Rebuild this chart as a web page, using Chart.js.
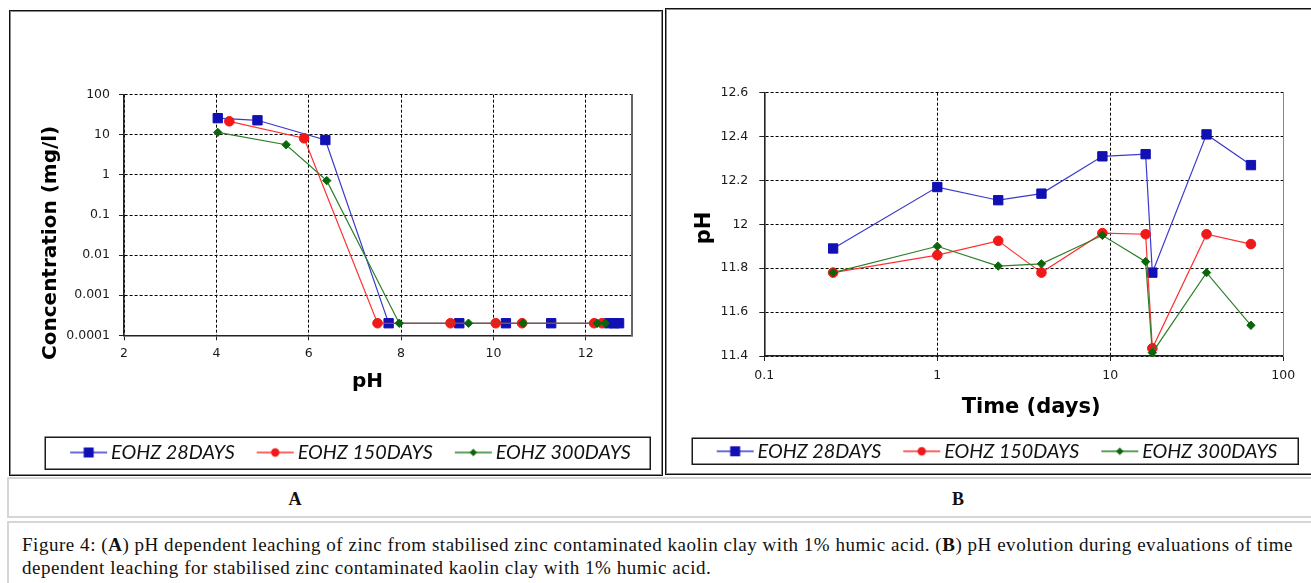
<!DOCTYPE html>
<html><head><meta charset="utf-8">
<script src="https://cdn.jsdelivr.net/npm/chart.js@4.4.0/dist/chart.umd.min.js"></script>
<style>
html,body{margin:0;padding:0;background:#fff;}
body{width:1311px;height:583px;position:relative;overflow:hidden;}
.panel{position:absolute;box-sizing:border-box;border:1px solid #111;box-shadow:inset 0 0 0 1px #8a8a8a;}
canvas{position:absolute;}
.row{position:absolute;box-sizing:border-box;border:2px solid #d6d6d6;}
.lab{position:absolute;font:bold 18px "Liberation Serif";transform:translate(-50%,-50%);color:#111;}
.cap{position:absolute;left:22px;top:533px;font:19px "Liberation Serif";line-height:23px;white-space:nowrap;color:#111;}
</style></head>
<body>
<div class="panel" style="left:9px;top:10px;width:654px;height:466px"></div>
<div class="panel" style="left:665px;top:8px;width:660px;height:467px"></div>
<canvas id="cA" width="650" height="462" style="left:11px;top:12px;width:650px;height:462px"></canvas>
<canvas id="cB" width="644" height="464" style="left:667px;top:10px;width:644px;height:464px"></canvas>
<div class="row" style="left:7px;top:477px;width:1320px;height:41px"></div>
<div class="lab" style="left:295px;top:499px">A</div>
<div class="lab" style="left:958px;top:499px">B</div>
<div class="row" style="left:7px;top:521px;width:1320px;height:80px"></div>
<div class="cap" id="cap"><span id="l1">Figure 4: (<b>A</b>) pH dependent leaching of zinc from stabilised zinc contaminated kaolin clay with 1% humic acid. (<b>B</b>) pH evolution during evaluations of time</span><br><span id="l2">dependent leaching for stabilised zinc contaminated kaolin clay with 1% humic acid.</span></div>
<script>
// ---------- DATA ----------
const seriesNames = ['EOHZ 28DAYS', 'EOHZ 150DAYS', 'EOHZ 300DAYS'];

// Chart A: pH vs concentration (mg/l)
const phA_28   = [4.03, 4.89, 6.36, 7.73, 9.26, 10.27, 11.25, 12.5, 12.62, 12.72];
const concA_28 = [26, 23, 7.4, 0.0002, 0.0002, 0.0002, 0.0002, 0.0002, 0.0002, 0.0002];
const phA_150   = [4.28, 5.9, 7.49, 9.07, 10.05, 10.62, 12.18, 12.35];
const concA_150 = [21.7, 8.2, 0.0002, 0.0002, 0.0002, 0.0002, 0.0002, 0.0002];
const phA_300   = [4.03, 5.51, 6.39, 7.96, 9.46, 10.64, 12.25, 12.42];
const concA_300 = [11.5, 5.66, 0.72, 0.0002, 0.0002, 0.0002, 0.0002, 0.0002];

const xTicksA = [2, 4, 6, 8, 10, 12];
const xTickLabelsA = ['2', '4', '6', '8', '10', '12'];
const yTicksA = [0.0001, 0.001, 0.01, 0.1, 1, 10, 100];
const yTickLabelsA = ['0.0001', '0.001', '0.01', '0.1', '1', '10', '100'];

// Chart B: time (days) vs pH
const timeB = [0.25, 1, 2.25, 4, 9, 16, 17.5, 36, 65];
const phB_28  = [11.89, 12.17, 12.11, 12.14, 12.31, 12.32, 11.78, 12.41, 12.27];
const phB_150 = [11.78, 11.86, 11.925, 11.78, 11.96, 11.955, 11.435, 11.955, 11.91];
const phB_300 = [11.78, 11.90, 11.81, 11.82, 11.95, 11.83, 11.415, 11.78, 11.54];

const xTicksB = [0.1, 1, 10, 100];
const xTickLabelsB = ['0.1', '1', '10', '100'];
const yTicksB = [11.4, 11.6, 11.8, 12, 12.2, 12.4, 12.6];
const yTickLabelsB = ['11.4', '11.6', '11.8', '12', '12.2', '12.4', '12.6'];

// ---------- STYLE ----------
const lineColors = ['#3a3acc', '#ff3030', '#2a7f2a'];
const markerColors = ['#1010b4', '#f01818', '#0b650b'];
const markerShapes = ['rect', 'circle', 'rectRot'];
const markerRadii = [6.6, 4.8, 4.2];

function legendImage(i) {
  const c = document.createElement('canvas');
  c.width = 44; c.height = 14;
  const g = c.getContext('2d');
  g.strokeStyle = lineColors[i]; g.lineWidth = 1.5;
  g.beginPath(); g.moveTo(6, 7); g.lineTo(43, 7); g.stroke();
  g.fillStyle = markerColors[i];
  const cx = 24.5, cy = 7;
  g.beginPath();
  if (markerShapes[i] === 'rect') { g.rect(cx - 5, cy - 5, 10, 10); }
  else if (markerShapes[i] === 'circle') { g.arc(cx, cy, 4.2, 0, Math.PI * 2); }
  else { g.moveTo(cx - 3.8, cy); g.lineTo(cx, cy - 3.8); g.lineTo(cx + 3.8, cy); g.lineTo(cx, cy + 3.8); g.closePath(); }
  g.fill();
  return c;
}
const legendImgs = [0, 1, 2].map(legendImage);

function makeDatasets(xs, ys) {
  return xs.map((xArr, i) => ({
    label: seriesNames[i],
    data: xArr.map((x, k) => ({ x: x, y: ys[i][k] })),
    borderColor: lineColors[i],
    backgroundColor: markerColors[i],
    pointBackgroundColor: markerColors[i],
    pointBorderColor: markerColors[i],
    pointBorderWidth: 1,
    pointStyle: markerShapes[i],
    pointRadius: markerRadii[i],
    borderWidth: 1.2,
    tension: 0,
    clip: false,
    order: 2 - i
  }));
}

const legendFrame = {
  id: 'legendFrame',
  afterDraw(chart, args, opts) {
    const lg = chart.legend;
    if (!lg || !lg.legendHitBoxes || !lg.legendHitBoxes.length) return;
    const hb = lg.legendHitBoxes;
    const first = hb[0], last = hb[hb.length - 1];
    const cy = first.top + first.height / 2;
    const x1 = first.left - opts.padL, x2 = last.left + last.width + opts.padR;
    const ctx = chart.ctx;
    ctx.save();
    ctx.strokeStyle = '#1a1a1a'; ctx.lineWidth = 1.5;
    ctx.strokeRect(Math.round(x1) + 0.25, Math.round(cy - opts.h / 2) + 0.25, Math.round(x2 - x1), Math.round(opts.h));
    ctx.restore();
  }
};

const tickFont = { family: 'DejaVu Sans', size: 12.5 };
const gridCfg = { color: '#000', lineWidth: 1, tickColor: '#222', tickLength: 5, tickWidth: 1, drawTicks: true };
const borderCfg = { display: true, color: '#222', width: 1.6, dash: [3, 2] };

function legendCfg() {
  return {
    position: 'bottom',
    align: 'center',
    labels: {
      usePointStyle: true,
      pointStyleWidth: 30,
      padding: 23,
      color: '#111',
      font: { family: 'Lato', style: 'italic', size: 19.8 },
      sort: (a, b) => a.datasetIndex - b.datasetIndex,
      generateLabels(chart) {
        const items = Chart.defaults.plugins.legend.labels.generateLabels(chart);
        items.forEach(it => { it.pointStyle = legendImgs[it.datasetIndex]; it.lineWidth = 0; });
        return items;
      }
    }
  };
}

// ---------- CHART A ----------
new Chart(document.getElementById('cA'), {
  type: 'line',
  data: { datasets: makeDatasets([phA_28, phA_150, phA_300], [concA_28, concA_150, concA_300]) },
  plugins: [legendFrame],
  options: {
    responsive: false, animation: false,
    layout: { padding: { left: 30, right: 0, top: 82.7, bottom: 1.6 } },
    plugins: {
      legend: legendCfg(),
      tooltip: { enabled: false },
      legendFrame: { padL: 26, padR: 19, h: 31.6 }
    },
    scales: {
      x: {
        type: 'linear', min: 2, max: 13,
        afterBuildTicks: s => { s.ticks = xTicksA.map(v => ({ value: v })); },
        afterFit: s => { s.height = 84.3; },
        ticks: { font: tickFont, color: '#1a1a1a', padding: 5.7, autoSkip: false, maxRotation: 0, callback: (v, i) => xTickLabelsA[i] },
        grid: gridCfg, border: borderCfg,
        title: { display: true, text: 'pH   ', color: '#000', font: { family: 'DejaVu Sans', weight: 'bold', size: 20 }, padding: { top: 0, bottom: 25.9 } }
      },
      y: {
        type: 'logarithmic', min: 0.0001, max: 100, position: 'left',
        afterBuildTicks: s => { s.ticks = yTicksA.map(v => ({ value: v })); },
        afterFit: s => { s.width = 83; },
        ticks: { font: tickFont, color: '#1a1a1a', padding: 9, autoSkip: false, callback: (v, i) => yTickLabelsA[i] },
        grid: gridCfg, border: borderCfg,
        title: { display: true, text: 'Concentration (mg/l)        ', color: '#000', font: { family: 'DejaVu Sans', weight: 'bold', size: 20 }, padding: { top: -2.5, bottom: 0 } }
      },
      yR: {
        type: 'linear', position: 'right', display: true,
        afterFit: s => { s.width = 29; },
        ticks: { display: false }, grid: { display: false, drawTicks: false },
        border: { display: true, color: '#666', width: 2 }
      }
    }
  }
});

// ---------- CHART B ----------
new Chart(document.getElementById('cB'), {
  type: 'line',
  data: { datasets: makeDatasets([timeB, timeB, timeB], [phB_28, phB_150, phB_300]) },
  plugins: [legendFrame],
  options: {
    responsive: false, animation: false,
    layout: { padding: { left: 17, right: 0, top: 82.7, bottom: 2.8 } },
    plugins: {
      legend: legendCfg(),
      tooltip: { enabled: false },
      legendFrame: { padL: 26, padR: 20, h: 26 }
    },
    scales: {
      x: {
        type: 'logarithmic', min: 0.1, max: 100,
        afterBuildTicks: s => { s.ticks = xTicksB.map(v => ({ value: v })); },
        afterFit: s => { s.height = 62.4; },
        ticks: { font: tickFont, color: '#1a1a1a', padding: 7.3, autoSkip: false, maxRotation: 0, callback: (v, i) => xTickLabelsB[i] },
        grid: gridCfg, border: borderCfg,
        title: { display: true, text: '  Time (days)', color: '#000', font: { family: 'DejaVu Sans', weight: 'bold', size: 21 }, padding: { top: 0, bottom: -2.2 } }
      },
      y: {
        type: 'linear', min: 11.4, max: 12.6, position: 'left',
        afterBuildTicks: s => { s.ticks = yTicksB.map(v => ({ value: v })); },
        afterFit: s => { s.width = 80.3; },
        ticks: { font: tickFont, color: '#1a1a1a', padding: 11, autoSkip: false, callback: (v, i) => yTickLabelsB[i] },
        grid: gridCfg, border: borderCfg,
        title: { display: true, text: 'pH ', color: '#000', font: { family: 'DejaVu Sans', weight: 'bold', size: 21 }, padding: { top: 8.1, bottom: 0 } }
      },
      yR: {
        type: 'linear', position: 'right', display: true,
        afterFit: s => { s.width = 27.7; },
        ticks: { display: false }, grid: { display: false, drawTicks: false },
        border: { display: true, color: '#888', width: 1 }
      }
    }
  }
});

// ---------- caption fit ----------
(function () {
  const l1 = document.getElementById('l1');
  const w = l1.getBoundingClientRect().width;
  const n = l1.textContent.length;
  const ls = (1271 - w) / n;
  document.getElementById('cap').style.letterSpacing = ls + 'px';
})();
</script>
</body></html>
